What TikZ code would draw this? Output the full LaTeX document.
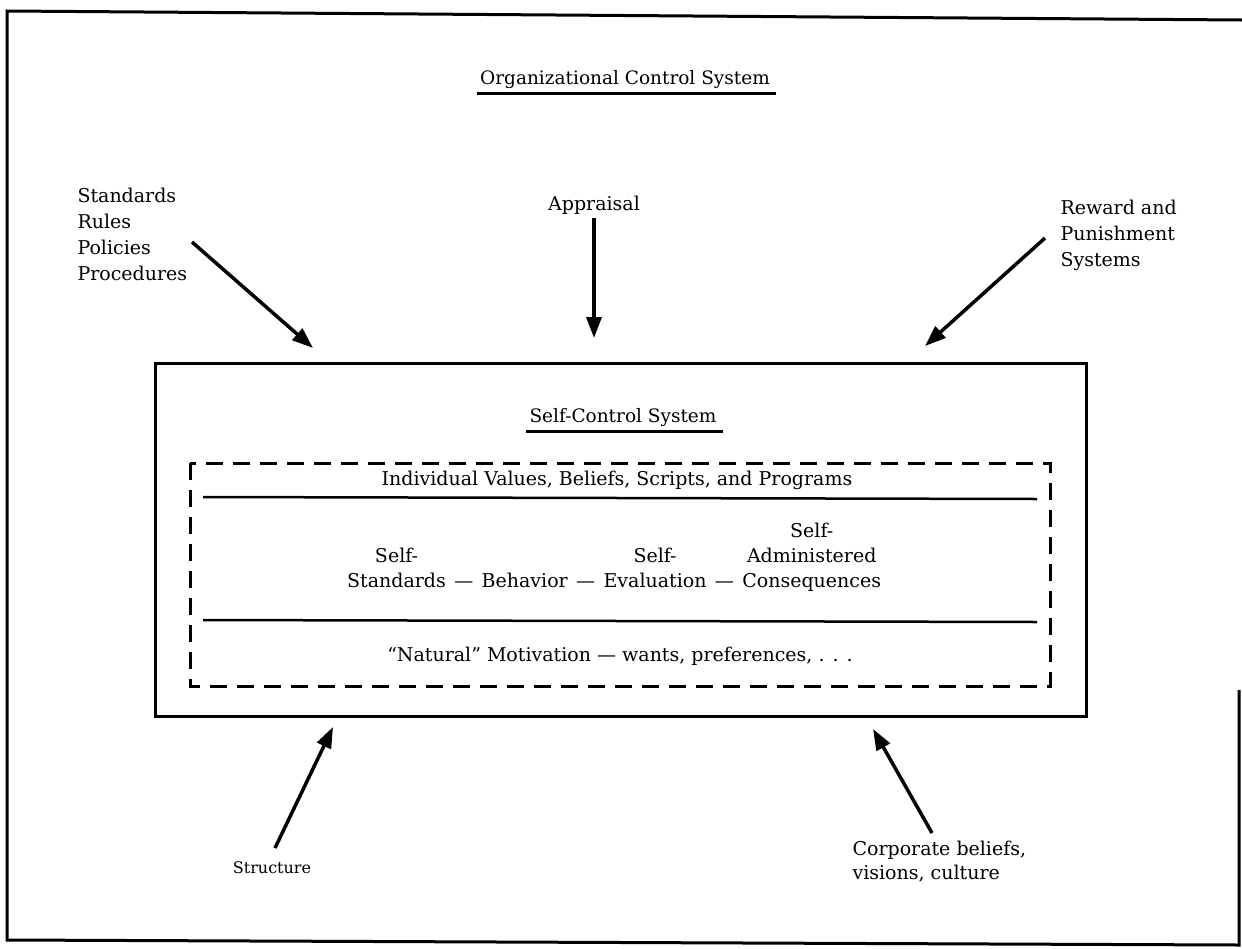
\documentclass[tikz,border=0pt]{standalone}
\usepackage{fontspec}
\setmainfont{DejaVu Serif}
\usetikzlibrary{positioning,arrows.meta}

\begin{document}
\begin{tikzpicture}[x=1pt,y=-1pt,font=\fontsize{19}{26}\selectfont,
    arr/.style={line width=3.5pt,-{Triangle[length=21pt,width=15pt]}},
    word/.style={inner xsep=4pt,inner ysep=3.2pt,text height=14pt,text depth=4.5pt}]
  \useasboundingbox (0,0) rectangle (1242,948);
  % frame of the page
  \draw[line width=3pt] (1239,690) -- (1239,945) -- (7,940) -- (7,11) -- (1242,20);
  % outer system
  \node[font=\fontsize{18.5}{24}\selectfont] (t) at (625,80) {Organizational Control System};
  \draw[line width=2.5pt] ([yshift=-1pt]t.south west) -- ([yshift=-1pt,xshift=3pt]t.south east);
  \node[align=left,anchor=west] (sr) at (74,234) {Standards\\Rules\\Policies\\Procedures};
  \node (ap) at (594,205) {Appraisal};
  \node[align=left,anchor=west] (rw) at (1057,235) {Reward and\\Punishment\\Systems};
  \node[font=\fontsize{16}{20}\selectfont] (st) at (272,868) {Structure};
  \node[align=left,anchor=west,font=\fontsize{19}{24}\selectfont] (cb) at (849,862) {Corporate beliefs,\\visions, culture};
  \coordinate (a1) at (192,242);
  \coordinate (b1) at (313,348);
  \coordinate (b2) at (594,338);
  \coordinate (a3) at (1045,238);
  \coordinate (b3) at (925,346);
  \coordinate (a4) at (275,848);
  \coordinate (b4) at (333,727);
  \coordinate (a5) at (932,833);
  \coordinate (b5) at (873,729);
  \draw[arr] (a1) -- (b1);
  \draw[arr] (ap) -- (b2);
  \draw[arr] (a3) -- (b3);
  \draw[arr] (a4) -- (b4);
  \draw[arr] (a5) -- (b5);
  % self-control system
  \draw[line width=3pt] (155,363) rectangle (1086,716);
  \node[font=\fontsize{18.5}{24}\selectfont] (sc) at (623,418) {Self-Control System};
  \draw[line width=2.5pt] ([yshift=-1pt]sc.south west) -- ([yshift=-1pt,xshift=3pt]sc.south east);
  \draw[line width=3pt,dash pattern=on 17pt off 10pt] (190,463) rectangle (1050,686);
  \node (iv) at (617,480) {Individual Values, Beliefs, Scripts, and Programs};
  \draw[line width=2.5pt] (203,497) -- (1037,499);
  \draw[line width=2.5pt] (203,620) -- (1037,622);
  \node[word,anchor=west] (std) at (343,583) {Standards};
  \node[word,right=0pt of std] (d1) {---};
  \node[word,right=0pt of d1] (beh) {Behavior};
  \node[word,right=0pt of beh] (d2) {---};
  \node[word,right=0pt of d2] (eva) {Evaluation};
  \node[word,right=0pt of eva] (d3) {---};
  \node[word,right=0pt of d3] (con) {Consequences};
  \node[word,above=0pt of std] (s1) {Self-};
  \node[word,above=0pt of eva] (s2) {Self-};
  \node[word,above=0pt of con] (adm) {Administered};
  \node[word,above=0pt of adm] (s3) {Self-};
  \node (nm) at (620,656) {``Natural'' Motivation --- wants, preferences, . . .};
\end{tikzpicture}
\end{document}
